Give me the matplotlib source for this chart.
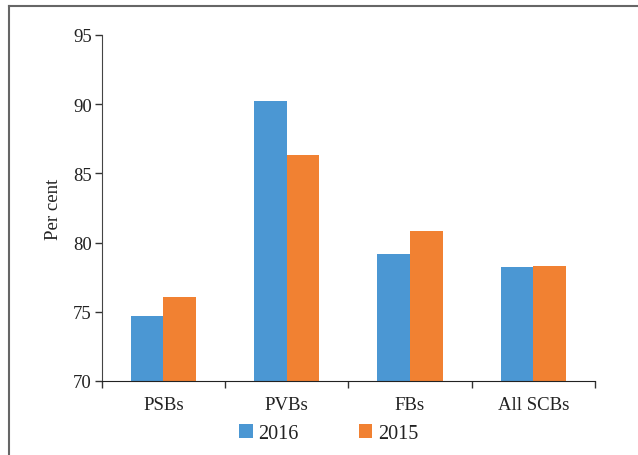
import matplotlib
matplotlib.use('Agg')
from matplotlib import pyplot as plt
from matplotlib.lines import Line2D
import numpy as np

categories = ['PSBs', 'PVBs', 'FBs', 'All SCBs']
series_2016 = [74.7, 90.25, 79.2, 78.2]
series_2015 = [76.1, 86.35, 80.85, 78.3]
yticks = [70, 75, 80, 85, 90, 95]

blue = '#4b97d3'
orange = '#f18132'

plt.rcParams['font.family'] = ['Liberation Serif', 'DejaVu Serif']

fig = plt.figure(figsize=(6.38, 4.56), dpi=100)
ax = fig.add_axes([0.1594, 0.1623, 0.7732, 0.7588])

x = np.arange(len(categories))
w = 0.265
ax.bar(x - w / 2, series_2016, w, color=blue, label='2016')
ax.bar(x + w / 2, series_2015, w, color=orange, label='2015')

ax.set_xlim(-0.5, len(categories) - 0.5)
ax.set_ylim(70, 95)
ax.set_yticks(yticks)
ax.set_yticklabels([str(t) for t in yticks], fontsize=13.5, color='#222222')

# category labels centered, ticks on boundaries
ax.set_xticks(np.arange(len(categories) + 1) - 0.5)
ax.set_xticklabels([])
ax.set_xticks(x, minor=True)
ax.set_xticklabels(categories, minor=True, fontsize=13.5, color='#222222')
ax.tick_params(axis='x', which='minor', length=0, pad=11)
ax.tick_params(axis='x', which='major', length=5, width=1, color='#333333', direction='out')
ax.tick_params(axis='y', length=5, width=1, color='#333333', pad=2)

for s in ['top', 'right']:
    ax.spines[s].set_visible(False)
ax.spines['left'].set_color('#444444')
ax.spines['bottom'].set_color('#222222')

ax.set_ylabel('Per cent', fontsize=13.5, color='#222222', labelpad=8)

leg = ax.legend(loc='upper center', bbox_to_anchor=(0.461, -0.072), ncol=2, frameon=False,
                fontsize=14.5, handlelength=0.65, handleheight=0.65, columnspacing=3.0,
                handletextpad=0.3)
for t in leg.get_texts():
    t.set_color('#222222')

# frame around the figure (left and top edges)
fig.add_artist(Line2D([8.5 / 638, 8.5 / 638], [0, 1 - 7 / 456], transform=fig.transFigure,
                      color='#666666', lw=1.5))
fig.add_artist(Line2D([8.5 / 638, 1], [1 - 7 / 456, 1 - 7 / 456], transform=fig.transFigure,
                      color='#666666', lw=1.5))

fig.savefig('out.png', dpi=100)
